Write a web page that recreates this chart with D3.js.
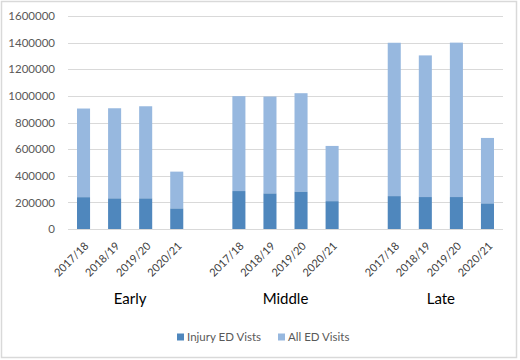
<!DOCTYPE html>
<html>
<head>
<meta charset="utf-8">
<script src="https://cdn.jsdelivr.net/npm/d3@7"></script>
<style>
  body { margin: 0; background: #fff; }
  text { font-family: Lato, "Open Sans", sans-serif; }
</style>
</head>
<body>
<div class="chart"></div>
<script>
// groups, years and values
const groups = ["Early", "Middle", "Late"];
const years = ["2017/18", "2018/19", "2019/20", "2020/21"];
const injuryVisits = [
  239000, 230000, 230000, 154000,
  285000, 267000, 280000, 209000,
  247000, 240000, 240000, 192000
];
const allVisits = [
  905000, 907000, 922000, 431000,
  998000, 995000, 1020000, 624000,
  1399000, 1304000, 1400000, 684000
];
const yTicks = [0, 200000, 400000, 600000, 800000, 1000000, 1200000, 1400000, 1600000];
const seriesNames = ["Injury ED Vists", "All ED Visits"];
const colors = ["#4f87bd", "#97b8df"];

const width = 520, height = 360;
const margin = { top: 16, right: 17, bottom: 131, left: 68 };
const plotW = width - margin.left - margin.right;
const plotH = height - margin.top - margin.bottom;

// one blank slot between groups, like the spreadsheet layout
const slots = [];
groups.forEach((g, gi) => {
  years.forEach((yr, yi) => slots.push({ key: g + "|" + yr, group: g, year: yr, i: gi * 4 + yi }));
  if (gi < groups.length - 1) slots.push({ key: "gap" + gi, gap: true });
});

const data = slots.filter(s => !s.gap).map(s => ({
  key: s.key, group: s.group, year: s.year,
  injury: injuryVisits[s.i], all: allVisits[s.i]
}));

const x = d3.scaleBand()
  .domain(slots.map(s => s.key))
  .range([0, plotW])
  .paddingInner(0.58)
  .paddingOuter(0.29);

const y = d3.scaleLinear()
  .domain([0, 1600000])
  .range([plotH, 0]);

const svg = d3.select(".chart").append("svg")
  .attr("width", width)
  .attr("height", height);

// outer border
svg.append("rect")
  .attr("x", 1.5).attr("y", 1.5)
  .attr("width", 515).attr("height", 356)
  .attr("fill", "none")
  .attr("stroke", "#d9d9d9")
  .attr("stroke-width", 1.5);

const g = svg.append("g")
  .attr("transform", `translate(${margin.left},${margin.top})`);

// gridlines
g.selectAll(".grid")
  .data(yTicks)
  .enter().append("line")
  .attr("x1", 0).attr("x2", plotW)
  .attr("y1", d => Math.round(y(d)) + 0.5)
  .attr("y2", d => Math.round(y(d)) + 0.5)
  .attr("stroke", "#d9d9d9")
  .attr("stroke-width", 1.2);

// y axis labels
const yAxis = g.append("g")
  .call(d3.axisLeft(y).tickValues(yTicks).tickFormat(d3.format("d")).tickSize(0).tickPadding(13));
yAxis.select(".domain").remove();
yAxis.selectAll("text")
  .attr("fill", "#595959")
  .style("font-size", "11.5px");

// bars: light total first, injury on the bottom
g.selectAll(".all")
  .data(data)
  .enter().append("rect")
  .attr("x", d => x(d.key))
  .attr("width", x.bandwidth())
  .attr("y", d => y(d.all))
  .attr("height", d => y(d.injury) - y(d.all))
  .attr("fill", colors[1]);

g.selectAll(".injury")
  .data(data)
  .enter().append("rect")
  .attr("x", d => x(d.key))
  .attr("width", x.bandwidth())
  .attr("y", d => y(d.injury))
  .attr("height", d => plotH - y(d.injury))
  .attr("fill", colors[0]);

// x axis year labels, rotated
const xAxis = g.append("g")
  .attr("transform", `translate(0,${plotH})`)
  .call(d3.axisBottom(x).tickSize(0).tickPadding(0)
    .tickFormat(k => k.startsWith("gap") ? "" : k.split("|")[1]));
xAxis.select(".domain").remove();
xAxis.selectAll("text")
  .attr("fill", "#404040")
  .style("font-size", "11px")
  .attr("text-anchor", "end")
  .attr("dy", "0.35em")
  .attr("transform", "translate(3,15) rotate(-45)");

// group labels
groups.forEach(gr => {
  const keys = years.map(yr => gr + "|" + yr);
  const cx = (x(keys[0]) + x(keys[3]) + x.bandwidth()) / 2;
  g.append("text")
    .attr("x", cx)
    .attr("y", plotH + 75)
    .attr("text-anchor", "middle")
    .attr("fill", "#000")
    .style("font-size", "15px")
    .text(gr);
});

// legend
const legend = svg.append("g").attr("transform", "translate(177,337)");
const legendX = [0, 101];
seriesNames.forEach((name, i) => {
  const item = legend.append("g").attr("transform", `translate(${legendX[i]},0)`);
  item.append("rect")
    .attr("x", 0).attr("y", -3.5)
    .attr("width", 7).attr("height", 7)
    .attr("fill", colors[i]);
  item.append("text")
    .attr("x", 10).attr("y", 0)
    .attr("dy", "0.35em")
    .attr("fill", "#595959")
    .style("font-size", "11.5px")
    .text(name);
});
</script>
</body>
</html>
